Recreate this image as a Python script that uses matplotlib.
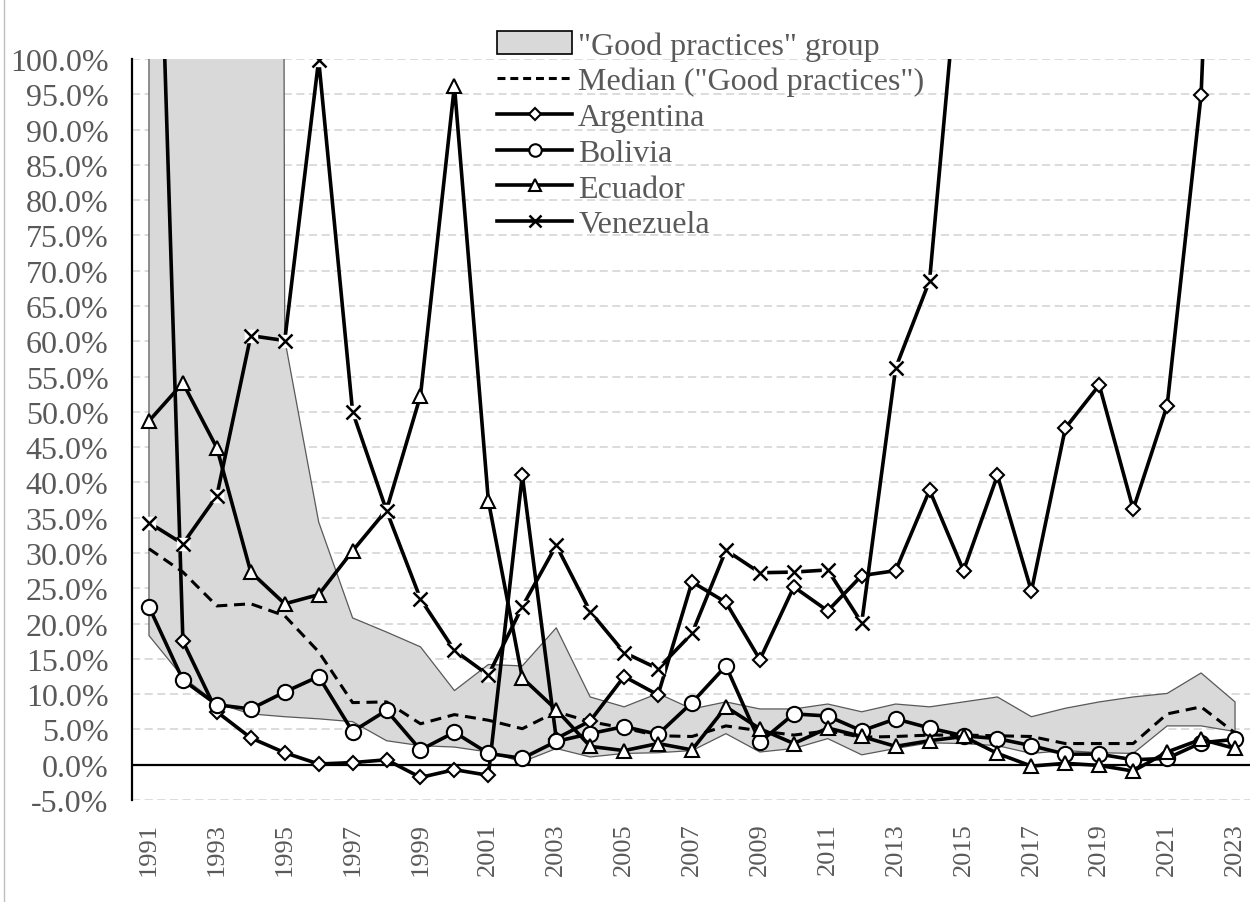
import numpy as np
import matplotlib
matplotlib.use("Agg")
import matplotlib.pyplot as plt
from matplotlib.lines import Line2D
from matplotlib.patches import Patch
from matplotlib.ticker import FuncFormatter, MultipleLocator

plt.rcParams['font.family'] = ['Liberation Serif', 'DejaVu Serif']

years = np.arange(1991, 2024)

# "Good practices" group range (values above 100% are off the chart)
band_upper = [430, 950, 1930, 2075, 60.3, 34.4, 20.8, 18.8, 16.7, 10.5, 14.2, 14.0, 19.4,
              9.6, 8.2, 10.1, 7.9, 8.9, 7.9, 7.9, 8.6, 7.5, 8.6, 8.2, 8.9, 9.6, 6.8,
              8.0, 8.9, 9.6, 10.1, 13.0, 8.9]
band_lower = [18.3, 12.4, 8.7, 7.2, 6.8, 6.5, 6.1, 3.4, 2.7, 2.5, 1.8, 0.4, 2.3,
              1.1, 1.6, 1.7, 2.0, 4.4, 1.8, 2.3, 3.7, 1.4, 2.3, 3.1, 3.0, 2.7, 1.6,
              2.0, 1.7, 1.6, 5.5, 5.5, 4.7]
median = [30.6, 27.3, 22.5, 22.8, 21.1, 16.0, 8.8, 8.9, 5.8, 7.1, 6.3, 5.1, 7.5,
          6.1, 5.2, 4.1, 4.0, 5.5, 4.8, 4.2, 4.8, 3.9, 4.0, 4.2, 4.2, 4.1, 4.0,
          3.0, 3.0, 3.0, 7.2, 8.2, 4.5]

argentina = [172.0, 17.5, 7.5, 3.8, 1.7, 0.1, 0.3, 0.7, -1.8, -0.7, -1.5, 41.0, 3.7,
             6.2, 12.5, 9.9, 25.9, 23.0, 14.9, 25.2, 21.8, 26.8, 27.5, 38.9, 27.5,
             41.0, 24.6, 47.7, 53.8, 36.2, 50.9, 94.9, 211.4]
bolivia = [22.4, 12.0, 8.5, 7.9, 10.3, 12.5, 4.7, 7.7, 2.1, 4.6, 1.6, 0.9, 3.3,
           4.4, 5.4, 4.3, 8.8, 14.0, 3.2, 7.2, 6.9, 4.8, 6.5, 5.2, 4.1, 3.7, 2.7,
           1.5, 1.5, 0.7, 0.9, 3.1, 3.6]
ecuador = [48.7, 54.1, 44.9, 27.3, 22.8, 24.1, 30.3, 36.1, 52.3, 96.2, 37.4, 12.3, 7.8,
           2.6, 2.0, 3.0, 2.1, 8.2, 5.1, 3.0, 5.2, 4.0, 2.6, 3.4, 4.0, 1.6, -0.2,
           0.2, -0.1, -0.9, 1.8, 3.6, 2.3]
venezuela = [34.3, 31.3, 38.1, 60.8, 60.1, 99.9, 50.0, 36.0, 23.5, 16.2, 12.7, 22.4, 31.1,
             21.7, 15.9, 13.6, 18.6, 30.4, 27.2, 27.3, 27.6, 20.1, 56.2, 68.6, 121.7,
             254.9, 438.1, 65374.0, 19906.0, 2355.0, 1588.0, 186.5, 337.5]

labels = ['"Good practices" group', 'Median ("Good practices")',
          'Argentina', 'Bolivia', 'Ecuador', 'Venezuela']

grey_txt = '#595959'

fig = plt.figure(figsize=(12.5, 9.03), dpi=100)
ax = fig.add_axes([132 / 1250, 1 - 801 / 903, 1120 / 1250, (801 - 60) / 903])

# dashed horizontal grid
for v in np.arange(-5, 100.1, 5):
    ax.axhline(v, color='#d9d9d9', lw=1.3, ls=(0, (4.5, 2.5)), zorder=0)

ax.fill_between(years, band_lower, band_upper, facecolor='#d9d9d9',
                edgecolor='#595959', lw=0.9, zorder=1)
ax.plot(years, median, color='black', lw=2.2, ls=(0, (3.6, 2.2)), zorder=2)

ax.axhline(0, color='black', lw=1.6, zorder=2)

line_kw = dict(color='black', lw=2.6, mec='black', mfc='white', mew=1.5, zorder=3)
ax.plot(years, argentina, marker='D', ms=7.5, **line_kw)
ax.plot(years, bolivia, marker='o', ms=11, **line_kw)
ax.plot(years, ecuador, marker='^', ms=10.5, **line_kw)
ax.plot(years, venezuela, color='black', lw=2.6, marker='s', ms=9,
        mfc='white', mec='white', zorder=3)
ax.plot(years, venezuela, ls='none', marker='x', ms=10, mew=1.8,
        color='black', zorder=4)

ax.set_xlim(1990.5, 2023.5)
ax.set_ylim(-5, 100)
ax.yaxis.set_major_locator(MultipleLocator(5))
ax.yaxis.set_major_formatter(FuncFormatter(lambda v, p: f'{v:.1f}%'))
ax.set_xticks(years[::2])
ax.tick_params(axis='y', length=0, labelsize=23, labelcolor=grey_txt, pad=17)
ax.tick_params(axis='x', length=0, labelsize=19, labelcolor=grey_txt,
               rotation=90, pad=16)

for s in ['top', 'right', 'bottom']:
    ax.spines[s].set_visible(False)
ax.spines['left'].set_linewidth(1.6)
ax.spines['left'].set_zorder(5)

handles = [
    Patch(facecolor='#d9d9d9', edgecolor='black', lw=1.2),
    Line2D([], [], color='black', lw=2.2, ls=(0, (2.6, 1.6))),
    Line2D([], [], color='black', lw=2.6, marker='D', ms=6.5, mfc='white', mec='black', mew=1.5),
    Line2D([], [], color='black', lw=2.6, marker='o', ms=9, mfc='white', mec='black', mew=1.5),
    Line2D([], [], color='black', lw=2.6, marker='^', ms=8.5, mfc='white', mec='black', mew=1.5),
    Line2D([], [], color='black', lw=2.6, marker='x', ms=8.5, mew=1.8),
]
leg = fig.legend(handles, labels, loc='upper left',
                 bbox_to_anchor=(497 / 1250, 1 - 32 / 903),
                 bbox_transform=fig.transFigure, frameon=False,
                 fontsize=23, handlelength=2.35, handletextpad=0.19,
                 labelspacing=0.2, borderpad=0, borderaxespad=0)
for t in leg.get_texts():
    t.set_color(grey_txt)

# thin grey frame line at the far left
fig.add_artist(Line2D([4 / 1250, 4 / 1250], [0, 1], color='#bfbfbf', lw=1,
                      transform=fig.transFigure))

fig.savefig('out.png', dpi=100)
